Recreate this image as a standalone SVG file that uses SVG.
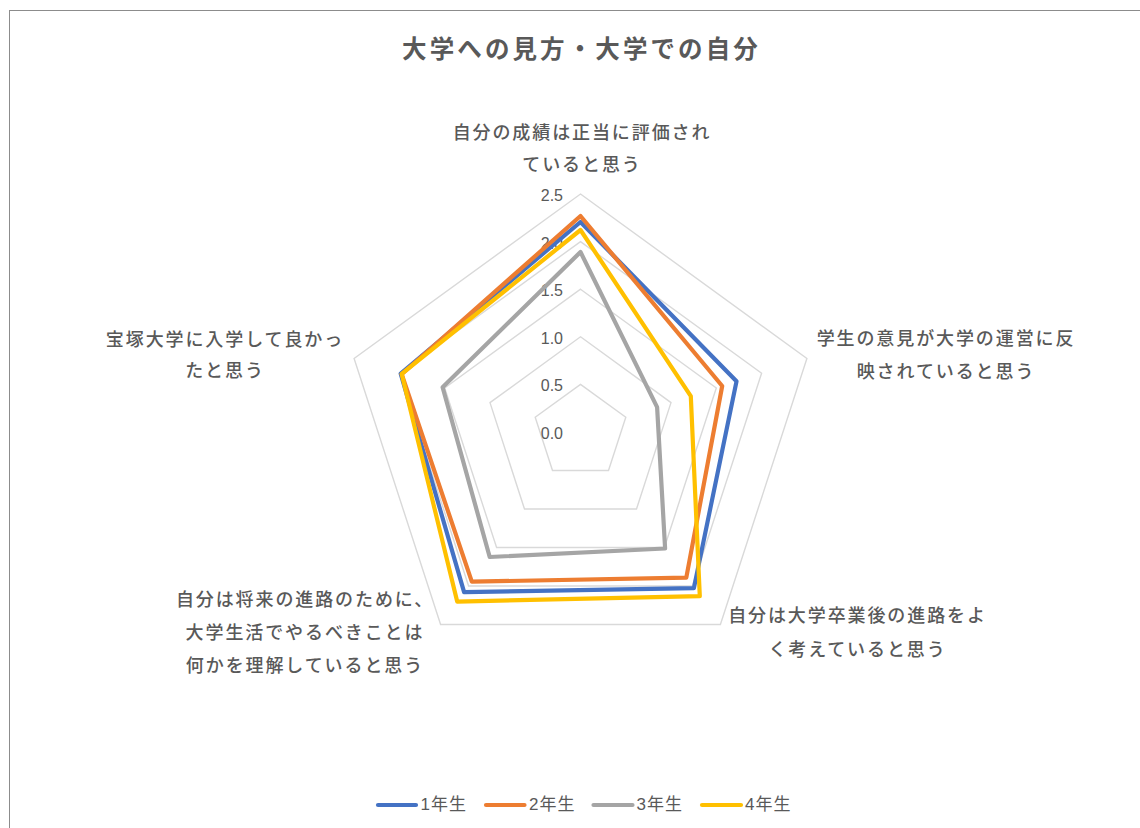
<svg xmlns="http://www.w3.org/2000/svg" width="1140" height="828" viewBox="0 0 1140 828">
  <style>
    .title { font-family: "Noto Sans CJK JP", "Noto Sans", sans-serif; font-size: 24.5px; font-weight: bold; fill: #595959; letter-spacing: 3.1px; text-anchor: middle; }
    .cat { font-family: "Noto Sans CJK JP", "Noto Sans", sans-serif; font-size: 18px; font-weight: 500; fill: #595959; letter-spacing: 1.9px; text-anchor: middle; }
    .tick { font-family: "Liberation Sans", "Noto Sans", sans-serif; font-size: 16px; fill: #595959; text-anchor: end; }
    .leg { font-family: "Liberation Sans", "Noto Sans CJK JP", sans-serif; font-size: 17px; fill: #595959; letter-spacing: 1px; }
    .grid { fill: none; stroke: #D9D9D9; stroke-width: 1.4; }
    .series { fill: none; stroke-width: 4.2; stroke-linejoin: round; }
    .s1 { stroke: #4472C4; }
    .s2 { stroke: #ED7D31; }
    .s3 { stroke: #A5A5A5; }
    .s4 { stroke: #FFC000; }
    .legline { stroke-width: 4.2; stroke-linecap: round; }
  </style>
  <rect x="0" y="0" width="1140" height="828" fill="#FFFFFF"/>
  <rect id="frame" x="9.5" y="10.5" width="1200" height="900" fill="#FFFFFF" stroke="#8C8C8C" stroke-width="1"/>

  <g id="title">
    <text class="title" x="581.5" y="57.5">大学への見方・大学での自分</text>
  </g>

  <g id="grid">
    <polygon class="grid" points="580.5,194 806.9,358.5 720.4,624.5 440.6,624.5 354.1,358.5"/>
    <polygon class="grid" points="580.5,241.6 761.6,373.2 692.4,586 468.6,586 399.4,373.2"/>
    <polygon class="grid" points="580.5,289.2 716.3,387.9 664.4,547.5 496.6,547.5 444.7,387.9"/>
    <polygon class="grid" points="580.5,336.8 671,402.6 636.5,509 524.5,509 490,402.6"/>
    <polygon class="grid" points="580.5,384.4 625.8,417.3 608.5,470.5 552.5,470.5 535.2,417.3"/>
  </g>

  <g id="axis-labels">
    <text class="tick" x="563" y="201">2.5</text>
    <text class="tick" x="563" y="248.6">2.0</text>
    <text class="tick" x="563" y="296.2">1.5</text>
    <text class="tick" x="563" y="343.8">1.0</text>
    <text class="tick" x="563" y="391.4">0.5</text>
    <text class="tick" x="563" y="439">0.0</text>
  </g>

  <g id="cat-top">
    <text class="cat" x="582" y="138.5">自分の成績は正当に評価され</text>
    <text class="cat" x="582" y="170.5">ていると思う</text>
  </g>
  <g id="cat-upper-right">
    <text class="cat" x="946" y="344.5">学生の意見が大学の運営に反</text>
    <text class="cat" x="946" y="377.5">映されていると思う</text>
  </g>
  <g id="cat-lower-right">
    <text class="cat" x="857.5" y="622">自分は大学卒業後の進路をよ</text>
    <text class="cat" x="857.5" y="656">く考えていると思う</text>
  </g>
  <g id="cat-lower-left">
    <text class="cat" x="305" y="605.5">自分は将来の進路のために、</text>
    <text class="cat" x="305" y="638.5">大学生活でやるべきことは</text>
    <text class="cat" x="305" y="671.5">何かを理解していると思う</text>
  </g>
  <g id="cat-upper-left">
    <text class="cat" x="225" y="345.5">宝塚大学に入学して良かっ</text>
    <text class="cat" x="225" y="377">たと思う</text>
  </g>

  <g id="series">
    <polygon class="series s1" points="580.5,222 736.5,381.3 693.9,588.1 464.1,592.2 400.7,373.6"/>
    <polygon class="series s2" points="580.5,216 722.2,386 686.3,577.6 471.8,581.7 401.7,374.2"/>
    <polygon class="series s3" points="580.5,252 657.1,407.1 665.1,548.5 489.7,557 442.6,387.2"/>
    <polygon class="series s4" points="580.5,230 690.8,396.2 699.8,596.2 457.2,601.6 401.7,373.9"/>
  </g>

  <g id="legend">
    <line class="legline s1" x1="378" y1="805" x2="416" y2="805"/>
    <text class="leg" x="420.5" y="810">1年生</text>
    <line class="legline s2" x1="486" y1="805" x2="524.5" y2="805"/>
    <text class="leg" x="529" y="810">2年生</text>
    <line class="legline s3" x1="593.5" y1="805" x2="632.5" y2="805"/>
    <text class="leg" x="636.5" y="810">3年生</text>
    <line class="legline s4" x1="702" y1="805" x2="741" y2="805"/>
    <text class="leg" x="745" y="810">4年生</text>
  </g>
</svg>
